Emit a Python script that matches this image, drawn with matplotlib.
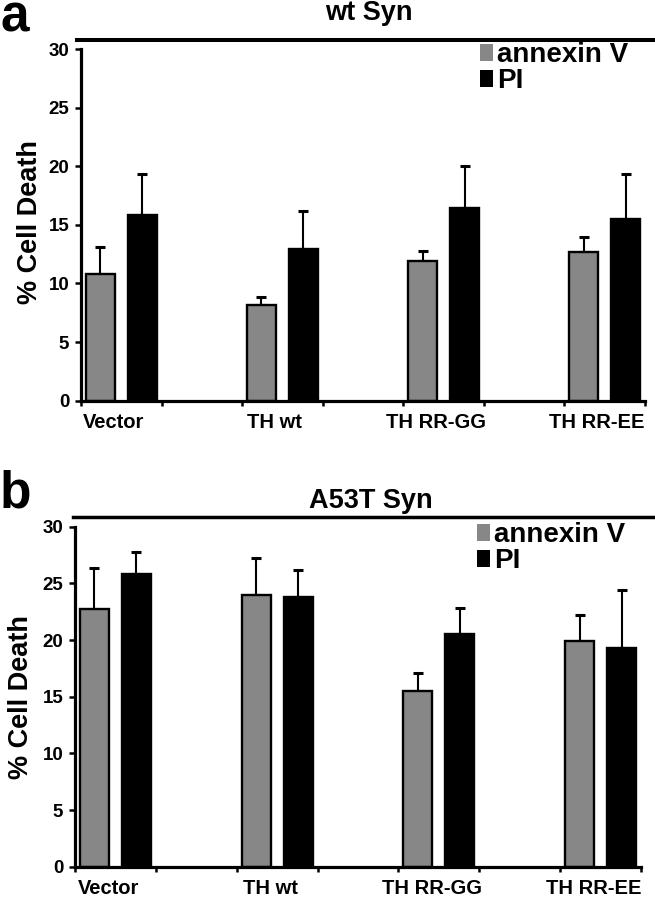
import numpy as np
import matplotlib
matplotlib.use('Agg')
import matplotlib.pyplot as plt
from matplotlib.patches import Patch
from matplotlib.lines import Line2D

plt.rcParams['font.family'] = ['Liberation Sans', 'DejaVu Sans']
plt.rcParams['font.weight'] = 'bold'

# data
groups = ['Vector', 'TH wt', 'TH RR-GG', 'TH RR-EE']

wt_annexin = [10.8, 8.2, 11.9, 12.7]
wt_annexin_err = [2.3, 0.65, 0.85, 1.25]
wt_pi = [15.8, 12.9, 16.4, 15.5]
wt_pi_err = [3.5, 3.3, 3.6, 3.85]

a53t_annexin = [22.7, 24.0, 15.5, 19.9]
a53t_annexin_err = [3.7, 3.2, 1.6, 2.3]
a53t_pi = [25.8, 23.8, 20.5, 19.3]
a53t_pi_err = [2.0, 2.4, 2.3, 5.1]

GRAY = '#878787'
W, H = 655, 900

fig = plt.figure(figsize=(6.55, 9.0), dpi=100)
axA = fig.add_axes([81 / W, 1 - 400.7 / H, 564 / W, 351.7 / H])
axB = fig.add_axes([75 / W, 1 - 866.7 / H, 566 / W, 340 / H])


def draw_panel(ax, annexin, annexin_err, pi, pi_err, lab_shift):
    x = np.arange(len(groups))
    bw = 0.18
    off = 0.13
    ax.bar(x - off, annexin, width=bw, color=GRAY, edgecolor='black', linewidth=1.7, zorder=2)
    ax.bar(x + off, pi, width=bw, color='black', edgecolor='black', linewidth=1.7, zorder=2)
    zeros = np.zeros(len(groups))
    ax.errorbar(x - off, annexin, yerr=[zeros, annexin_err], fmt='none', ecolor='black',
                elinewidth=1.5, capsize=3.3, capthick=2.2, zorder=1)
    ax.errorbar(x + off, pi, yerr=[zeros, pi_err], fmt='none', ecolor='black',
                elinewidth=1.5, capsize=3.3, capthick=2.2, zorder=1)

    ax.set_xlim(-0.25, len(groups) - 0.75)
    ax.set_ylim(0, 30)
    ax.set_yticks([0, 5, 10, 15, 20, 25, 30])

    # tick marks sit between the groups, labels sit under them
    ax.set_xticks(np.arange(-0.25, len(groups) - 0.7, 0.5))
    ax.set_xticklabels([])
    ax.set_xticks(x + lab_shift, minor=True)
    ax.set_xticklabels(groups, minor=True)

    ax.spines['top'].set_visible(False)
    ax.spines['right'].set_visible(False)
    ax.spines['left'].set_linewidth(2.3)
    ax.spines['bottom'].set_linewidth(2.3)

    ax.tick_params(axis='y', direction='out', length=4.5, width=1.8, labelsize=13.5, pad=4)
    ax.tick_params(axis='x', which='major', direction='out', length=3.5, width=1.8)
    ax.tick_params(axis='x', which='minor', length=0, labelsize=14.5, pad=9)
    for t in ax.get_yticklabels() + ax.get_xticklabels(minor=True):
        t.set_fontweight('bold')

    handles = [Patch(facecolor=GRAY, edgecolor='none'), Patch(facecolor='black', edgecolor='none')]
    return handles


hA = draw_panel(axA, wt_annexin, wt_annexin_err, wt_pi, wt_pi_err, -0.05)
hB = draw_panel(axB, a53t_annexin, a53t_annexin_err, a53t_pi, a53t_pi_err, -0.04)

legprops = dict(handlelength=0.45, handleheight=0.55, handletextpad=0.15, labelspacing=0.0,
                borderpad=0, borderaxespad=0, frameon=False, loc='upper left',
                prop={'weight': 'bold', 'size': 20})
fig.legend(hA, ['annexin V', 'PI'], bbox_to_anchor=(480 / W, 1 - 42 / H),
           bbox_transform=fig.transFigure, **legprops)
fig.legend(hB, ['annexin V', 'PI'], bbox_to_anchor=(477 / W, 1 - 522 / H),
           bbox_transform=fig.transFigure, **legprops)

# header lines and titles
fig.add_artist(Line2D([77 / W, 1.0], [1 - 40 / H, 1 - 40 / H], color='black', linewidth=2.9))
fig.add_artist(Line2D([73 / W, 1.0], [1 - 517 / H, 1 - 517 / H], color='black', linewidth=2.5))
fig.text(369 / W, 1 - 20 / H, 'wt Syn', ha='center', va='baseline', fontsize=19.5, fontweight='bold')
fig.text(371 / W, 1 - 508 / H, 'A53T Syn', ha='center', va='baseline', fontsize=19.5, fontweight='bold')

# panel letters
fig.text(0.0, 1 - 32 / H, 'a', ha='left', va='baseline', fontsize=37, fontweight='bold')
fig.text(0.0, 1 - 507 / H, 'b', ha='left', va='baseline', fontsize=37, fontweight='bold')

# y labels
fig.text(30 / W, 1 - 222 / H, '% Cell Death', rotation=90, ha='center', va='center',
         fontsize=19.5, fontweight='bold')
fig.text(21 / W, 1 - 697 / H, '% Cell Death', rotation=90, ha='center', va='center',
         fontsize=19.5, fontweight='bold')

fig.savefig('out.png', dpi=100)
